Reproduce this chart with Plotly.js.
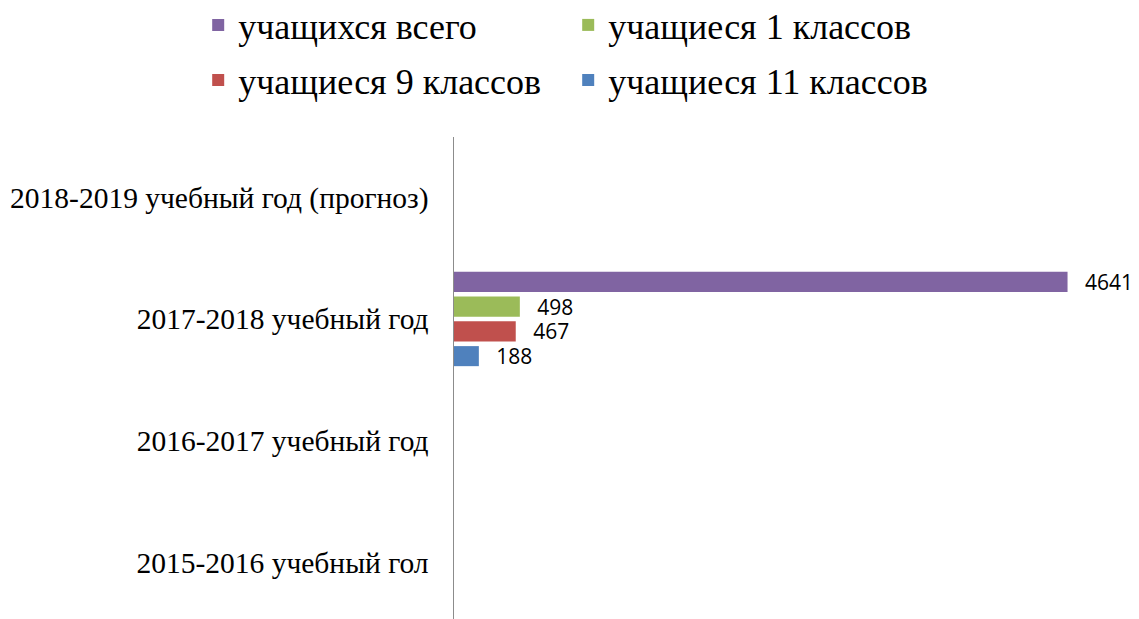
<!DOCTYPE html>
<html>
<head>
<meta charset="utf-8">
<script src="https://cdn.plot.ly/plotly-3.0.1.min.js"></script>
<style>html,body{margin:0;padding:0;background:#fff;}#chart{width:1139px;height:619px;}</style>
</head>
<body>
<div id="chart"></div>
<script>
const categories = ["2015-2016 учебный гол", "2016-2017 учебный год", "2017-2018 учебный год", "2018-2019 учебный год (прогноз)"];
const seriesNames = ["учащихся всего", "учащиеся 1 классов", "учащиеся 9 классов", "учащиеся 11 классов"];
const totalStudents = [null, null, 4641, null];
const grade1Students = [null, null, 498, null];
const grade9Students = [null, null, 467, null];
const grade11Students = [null, null, 188, null];
const colors = ["#8064A2", "#9BBB59", "#C0504D", "#4F81BD"];

const SERIF = "Liberation Serif";
const seriesValues = [totalStudents, grade1Students, grade9Students, grade11Students];
const legendOf = ["legend", "legend", "legend2", "legend2"];
const traces = [];
for (let i = seriesValues.length - 1; i >= 0; i--) {
  traces.push({
    type: "bar",
    orientation: "h",
    name: seriesNames[i],
    legend: legendOf[i],
    y: categories,
    x: seriesValues[i],
    marker: {color: colors[i]},
    texttemplate: "\u00a0\u00a0\u2006%{x}",
    textposition: "outside",
    constraintext: "none",
    cliponaxis: false,
    textfont: {family: "Open Sans", size: 21, color: "#000"},
    hoverinfo: "x+name"
  });
}

const legendCommon = {
  orientation: "h",
  traceorder: "reversed",
  x: -0.387, xanchor: "left",
  yanchor: "top",
  entrywidth: 325, entrywidthmode: "pixels",
  font: {family: SERIF, size: 36, color: "#000"},
  bgcolor: "rgba(0,0,0,0)"
};

const layout = {
  width: 1139, height: 619,
  margin: {l: 454, r: 23.5, t: 137, b: 0, autoexpand: false},
  font: {family: SERIF, color: "#000"},
  paper_bgcolor: "#fff", plot_bgcolor: "#fff",
  barmode: "group",
  bargap: 0.186,
  bargroupgap: 0.19,
  showlegend: true,
  legend: Object.assign({}, legendCommon, {y: 1.2946}),
  legend2: Object.assign({}, legendCommon, {y: 1.1805}),
  xaxis: {
    range: [0, 5000],
    visible: false,
    showgrid: false, zeroline: false
  },
  yaxis: {
    type: "category",
    categoryorder: "array",
    categoryarray: categories,
    range: [-0.466, 3.496],
    showline: true, linecolor: "#8c8c8c", linewidth: 1.5,
    ticks: "",
    ticklabelstandoff: 18,
    showgrid: false, zeroline: false,
    tickfont: {family: SERIF, size: 29.5, color: "#000"}
  }
};

Plotly.newPlot("chart", traces, layout, {displayModeBar: false, staticPlot: true});
</script>
</body>
</html>
